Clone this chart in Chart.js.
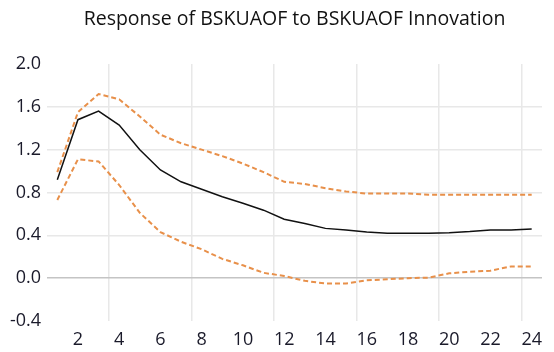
<!DOCTYPE html>
<html>
<head>
<meta charset="utf-8">
<script src="https://cdn.jsdelivr.net/npm/chart.js@4/dist/chart.umd.min.js"></script>
<style>
  html, body { margin: 0; padding: 0; background: #ffffff; }
  #wrap { width: 554px; height: 352px; }
</style>
</head>
<body>
<div id="wrap"><canvas id="c" width="554" height="352"></canvas></div>
<script>
// Impulse response of BSKUAOF to its own innovation, with +/- 2 S.E. bands
const periods = [1,2,3,4,5,6,7,8,9,10,11,12,13,14,15,16,17,18,19,20,21,22,23,24];
const response = [0.92,1.48,1.56,1.43,1.20,1.01,0.90,0.83,0.76,0.70,0.635,0.55,0.51,0.465,0.45,0.43,0.42,0.42,0.42,0.425,0.435,0.45,0.45,0.46];
const upperBand = [0.99,1.55,1.72,1.67,1.51,1.34,1.26,1.20,1.14,1.07,0.99,0.90,0.88,0.84,0.81,0.79,0.79,0.79,0.78,0.78,0.78,0.78,0.78,0.78];
const lowerBand = [0.73,1.11,1.09,0.87,0.61,0.43,0.34,0.27,0.18,0.12,0.05,0.02,-0.025,-0.05,-0.05,-0.02,-0.01,0.0,0.005,0.045,0.06,0.07,0.11,0.11];
const xTickLabels = [2,4,6,8,10,12,14,16,18,20,22,24];
const xGridPositions = [3.5,7.5,11.5,15.5,19.5,23.5];
const yTicks = [-0.4,0.0,0.4,0.8,1.2,1.6,2.0];

const toPoints = arr => periods.map((p, i) => ({ x: p, y: arr[i] }));
const orange = '#e8904a';
const font = "'Open Sans', 'DejaVu Sans', sans-serif";

new Chart(document.getElementById('c'), {
  type: 'line',
  data: {
    datasets: [
      { data: toPoints(response), borderColor: '#111111', borderWidth: 1.5, pointRadius: 0, tension: 0 },
      { data: toPoints(upperBand), borderColor: orange, borderWidth: 2, borderDash: [5, 3], pointRadius: 0, tension: 0 },
      { data: toPoints(lowerBand), borderColor: orange, borderWidth: 2, borderDash: [5, 3], pointRadius: 0, tension: 0 }
    ]
  },
  options: {
    responsive: false,
    animation: false,
    events: [],
    layout: { padding: { left: 0, right: 12, top: 0, bottom: 0 } },
    plugins: {
      legend: { display: false },
      tooltip: { enabled: false },
      title: {
        display: true,
        fullSize: false,
        text: 'Response of BSKUAOF to BSKUAOF Innovation',
        color: '#111111',
        font: { family: font, size: 19.5, weight: 'normal', lineHeight: 1.2 },
        padding: { top: 8, bottom: 32.6 }
      }
    },
    scales: {
      x: {
        type: 'linear',
        min: 0.5,
        max: 24.5,
        afterBuildTicks: s => {
          s.ticks = xTickLabels.concat(xGridPositions).sort((a, b) => a - b).map(v => ({ value: v }));
        },
        afterFit: s => { s.height = 31; },
        border: { display: false },
        grid: {
          drawTicks: false,
          lineWidth: 1.5,
          color: ctx => (ctx.tick && xGridPositions.includes(ctx.tick.value)) ? '#e8e8e8' : 'rgba(0,0,0,0)'
        },
        ticks: {
          autoSkip: false,
          maxRotation: 0,
          padding: 8,
          color: '#1a1a2a',
          font: { family: font, size: 18 },
          callback: v => xTickLabels.includes(v) ? String(v) : ''
        }
      },
      y: {
        min: -0.4,
        max: 2.0,
        afterBuildTicks: s => { s.ticks = yTicks.map(v => ({ value: v })); },
        afterFit: s => { s.width = 47; },
        border: { display: false },
        grid: {
          drawTicks: false,
          lineWidth: 1.5,
          color: ctx => {
            const v = ctx.tick ? Math.round(ctx.tick.value * 10) / 10 : null;
            if (v === 0) return '#c4c4c4';
            if (v === 2.0 || v === -0.4) return 'rgba(0,0,0,0)';
            return '#e8e8e8';
          }
        },
        ticks: {
          padding: 6,
          color: '#1a1a2a',
          font: { family: font, size: 18 },
          callback: v => (Math.round(v * 10) / 10).toFixed(1)
        }
      }
    }
  }
});
</script>
</body>
</html>
